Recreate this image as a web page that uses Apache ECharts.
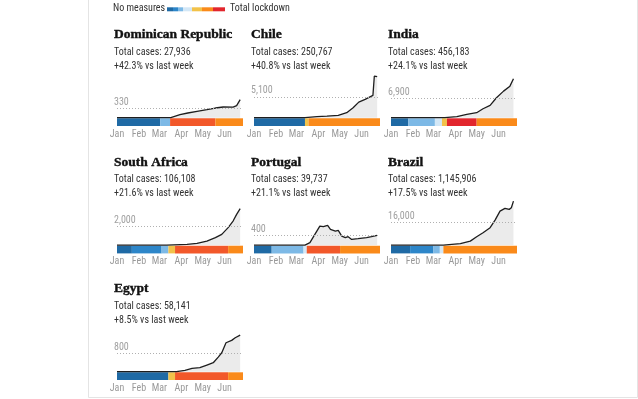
<!DOCTYPE html>
<html>
<head>
<meta charset="utf-8">
<title>Cases and lockdown measures</title>
<script src="https://cdn.jsdelivr.net/npm/echarts@6/dist/echarts.min.js"></script>
<style>
  html, body { margin: 0; padding: 0; background: #fff; }
  #chart { width: 638px; height: 399px; }
</style>
</head>
<body>
<div id="chart"></div>
<script>
// panels, read left to right, 3 per row
const countries = ['Dominican Republic', 'Chile', 'India', 'South Africa', 'Portugal', 'Brazil', 'Egypt'];
const totalCases = [27936, 250767, 456183, 106108, 39737, 1145906, 58141];
const weekChange = [42.3, 40.8, 24.1, 21.6, 21.1, 17.5, 8.5];
const refValues = [330, 5100, 6900, 2000, 400, 16000, 800];
const yMax = [1760, 11760, 17160, 5220, 1980, 33390, 2100];

const monthNames = ['Jan', 'Feb', 'Mar', 'Apr', 'May', 'Jun'];
const monthStarts = [0, 31, 60, 91, 121, 152];
const lastDay = 178;

// daily new cases (rolling average), [day since 1 Jan, cases]
const drCases = [[0, 0], [76, 0], [89, 110], [100, 172], [113, 230], [127, 293], [139, 355], [150, 392], [164, 385], [169, 440], [174, 660]];
const chileCases = [[0, 0], [72, 0], [89, 245], [103, 390], [119, 570], [131, 1225], [140, 2450], [148, 3820], [157, 4480], [168, 5460], [170, 10200], [174, 10050]];
const indiaCases = [[0, 0], [76, 0], [93, 357], [107, 1180], [121, 1785], [130, 3210], [140, 4390], [149, 7140], [159, 9500], [168, 11280], [173, 13900]];
const saCases = [[0, 0], [70, 0], [99, 76], [113, 185], [127, 436], [139, 806], [148, 1166], [157, 1900], [164, 2616], [169, 3346], [174, 3970]];
const portugalCases = [[0, 0], [72, 0], [79, 99], [86, 440], [93, 783], [98, 758], [104, 812], [108, 647], [115, 577], [119, 605], [124, 371], [129, 305], [133, 346], [138, 235], [147, 264], [159, 305], [166, 346], [174, 400]];
const brazilCases = [[0, 0], [74, 0], [98, 975], [112, 2780], [121, 5850], [130, 8630], [140, 12100], [147, 17400], [154, 23660], [161, 25550], [167, 24850], [170, 26000], [173, 30600]];
const egyptCases = [[0, 0], [84, 0], [96, 57], [106, 145], [117, 175], [127, 290], [136, 393], [143, 640], [148, 830], [154, 1267], [162, 1370], [167, 1485], [174, 1600]];

// measures: [from day, to day, level]  0 = no measures ... 7 = total lockdown
const drMeasures = [[0, 61, 0], [61, 75, 2], [75, 139, 6], [139, 178, 5]];
const chileMeasures = [[0, 72, 0], [72, 77, 4], [77, 178, 5]];
const indiaMeasures = [[0, 24.5, 0], [24.5, 62, 2], [62, 72, 3], [72, 79, 4], [79, 121, 7], [121, 178, 5]];
const saMeasures = [[0, 21, 0], [21, 63, 1], [63, 72.6, 2], [72.6, 82, 4], [82, 157, 6], [157, 178, 5]];
const portugalMeasures = [[0, 25, 0], [25, 70, 2], [70, 74.5, 3], [74.5, 121.6, 6], [121.6, 178, 5]];
const brazilMeasures = [[0, 27, 0], [27, 60, 1], [60, 69, 2], [69, 74, 3], [74, 178, 5]];
const egyptMeasures = [[0, 72.6, 0], [72.6, 82, 4], [82, 157, 6], [157, 178, 5]];

const levelColors = ['#1f6aa5', '#2d86c9', '#7db9e6', '#d3e7f6', '#f2c24a', '#fa8a1a', '#f2582a', '#e2262d'];
const legendLevels = [0, 1, 2, 3, 4, 5, 7];
const legendWidths = [6, 5, 5, 9, 10, 11, 12];

const caseSeries = [drCases, chileCases, indiaCases, saCases, portugalCases, brazilCases, egyptCases];
const measureSeries = [drMeasures, chileMeasures, indiaMeasures, saMeasures, portugalMeasures, brazilMeasures, egyptMeasures];

const sans = "'Liberation Sans Narrow', 'Roboto Condensed', Roboto, sans-serif";
const colX = [117, 254, 391];
const rowBase = [118.3, 245.7, 372.3];
const plotW = 126, plotH = 48, barH = 7.7;

const fmt = (v) => v.toLocaleString('en-US');

const renderPeriod = (params, api) => {
  const a = api.coord([api.value(0), 1]);
  const b = api.coord([api.value(1), 0]);
  return {
    type: 'rect',
    shape: { x: a[0], y: a[1], width: b[0] - a[0], height: b[1] - a[1] },
    style: { fill: levelColors[api.value(2)] },
  };
};

const grid = [], xAxis = [], yAxis = [], series = [], title = [];

countries.forEach((name, i) => {
  const left = colX[i % 3];
  const base = rowBase[Math.floor(i / 3)];

  grid.push({ left, top: base - plotH - 0.6, width: plotW, height: plotH });
  grid.push({ left, top: base, width: plotW, height: barH });

  xAxis.push({ gridIndex: 2 * i, type: 'value', min: 0, max: lastDay, show: false });
  yAxis.push({ gridIndex: 2 * i, type: 'value', min: 0, max: yMax[i], show: false });
  xAxis.push({
    gridIndex: 2 * i + 1,
    type: 'value',
    min: 0,
    max: lastDay,
    axisLine: { show: false },
    axisTick: { show: false },
    splitLine: { show: false },
    axisLabel: {
      customValues: monthStarts,
      formatter: (v) => monthNames[monthStarts.indexOf(v)],
      color: '#9a9a9a',
      fontSize: 10,
      fontFamily: sans,
      margin: 3,
    },
  });
  yAxis.push({ gridIndex: 2 * i + 1, type: 'value', min: 0, max: 1, show: false });

  series.push({
    type: 'line',
    xAxisIndex: 2 * i,
    yAxisIndex: 2 * i,
    data: caseSeries[i],
    symbol: 'none',
    silent: true,
    clip: false,
    lineStyle: { color: '#1e1e1e', width: 1.3 },
    areaStyle: { color: '#ebebeb', opacity: 1 },
    markLine: {
      symbol: 'none',
      silent: true,
      lineStyle: { type: [1, 2], color: '#b0b0b0', width: 1 },
      label: {
        position: 'insideStartTop',
        formatter: fmt(refValues[i]),
        color: '#a0a0a0',
        fontSize: 10,
        fontFamily: sans,
        distance: [0, 1],
        offset: [-3, 0],
      },
      data: [[{ coord: [0, refValues[i]] }, { coord: [177, refValues[i]] }]],
    },
  });
  series.push({
    type: 'custom',
    xAxisIndex: 2 * i + 1,
    yAxisIndex: 2 * i + 1,
    data: measureSeries[i],
    renderItem: renderPeriod,
    silent: true,
  });

  title.push({
    left: left - 3,
    top: base - 91.3,
    padding: 0,
    itemGap: 2,
    text: name,
    subtext: 'Total cases: ' + fmt(totalCases[i]) + '\n+' + weekChange[i] + '% vs last week',
    textStyle: {
      fontFamily: "'Liberation Serif', serif",
      fontWeight: 'bold',
      fontSize: 13.5,
      color: '#121212',
      lineHeight: 16,
      textBorderColor: '#121212',
      textBorderWidth: 0.4,
    },
    subtextStyle: { fontFamily: sans, fontSize: 10, color: '#333', lineHeight: 14 },
  });
});

// legend strip at the top
const legend = [
  { type: 'text', left: 113, top: 3.5, style: { text: 'No measures', font: '10px ' + sans, fill: '#333' } },
];
let lx = 167;
legendLevels.forEach((lv, k) => {
  legend.push({ type: 'rect', shape: { x: lx, y: 7.3, width: legendWidths[k], height: 4 }, style: { fill: levelColors[lv] } });
  lx += legendWidths[k];
});
legend.push({ type: 'text', left: 230, top: 3.5, style: { text: 'Total lockdown', font: '10px ' + sans, fill: '#333' } });
legend.push({
  type: 'rect',
  shape: { x: 88.5, y: -2, width: 549, height: 399.5 },
  style: { fill: 'none', stroke: '#e4e4e4', lineWidth: 1 },
  silent: true,
});

const chart = echarts.init(document.getElementById('chart'));
chart.setOption({
  animation: false,
  backgroundColor: '#fff',
  title,
  grid,
  xAxis,
  yAxis,
  series,
  graphic: legend,
});
</script>
</body>
</html>
